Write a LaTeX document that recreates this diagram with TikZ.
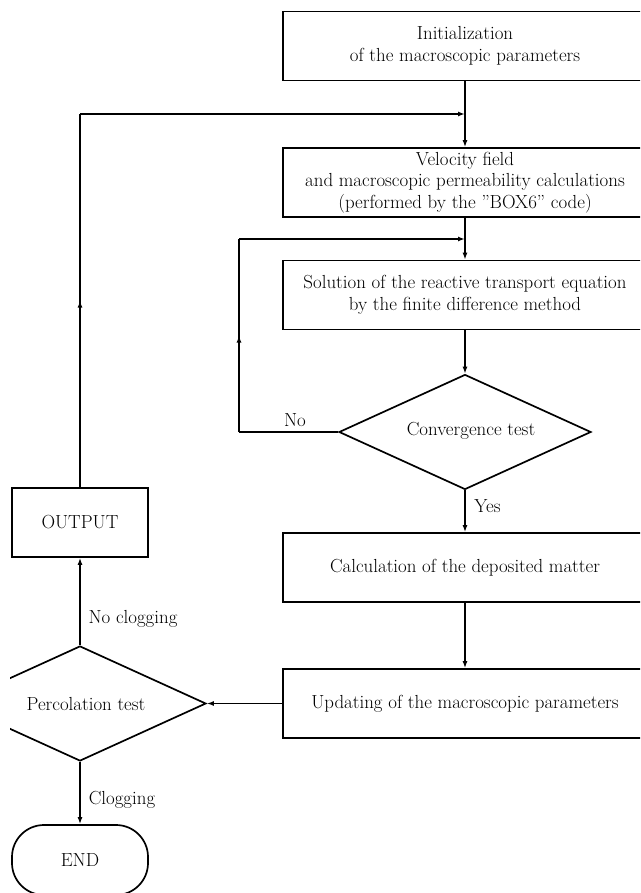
\documentclass[tikz,border=0pt]{standalone}
\usetikzlibrary{shapes.geometric,arrows.meta,decorations.markings}
\begin{document}
\begin{tikzpicture}[x=1pt,y=-1pt,
  every node/.style={font=\fontsize{18.9}{21.5}\selectfont},
  procbox/.style={draw,line width=1.7pt,rectangle,minimum width=364pt,minimum height=69pt,inner sep=0pt,align=center},
  termbox/.style={draw,line width=1.7pt,rectangle,minimum width=136pt,minimum height=69pt,inner sep=0pt,align=center},
  endbox/.style={draw,line width=1.7pt,rectangle,rounded corners=32pt,minimum width=136pt,minimum height=70pt,inner sep=0pt},
  decision/.style={draw,line width=1.7pt,diamond,minimum width=252pt,minimum height=115pt,inner sep=0pt},
  conn/.style={line width=1.7pt,-{Latex[length=7pt,width=5pt]}},
  plain/.style={line width=1.7pt},
  midarrow/.style={postaction={decorate},decoration={markings,mark=at position 0.5 with {\arrow{Latex[length=7pt,width=5pt]}}}},
  lbl/.style={inner sep=0pt}
]
\useasboundingbox (0,0) rectangle (640,893);
\clip (10,0) rectangle (640,893);

% process boxes
\node[procbox] (b1) at (465,46) {Initialization\\of the macroscopic parameters};
\node[procbox] (b2) at (465,182.5) {Velocity field\\and macroscopic permeability calculations\\(performed by the "BOX6" code)};
\node[procbox] (b3) at (465,295) {Solution of the reactive transport equation\\by the finite difference method};
\node[procbox] (b4) at (465,567.5) {Calculation of the deposited matter};
\node[procbox] (b5) at (465,703.5) {Updating of the macroscopic parameters};

% decisions
\node[decision] (cv) at (465,432) {};
\node[lbl] (cvt) at (471,431) {Convergence test};
\node[decision] (pc) at (80,703.5) {};
\node[lbl] (pct) at (86,704) {Percolation test};

% terminal boxes
\node[termbox] (out) at (80,522.5) {OUTPUT};
\node[endbox] (end) at (80,860) {END};

% junction coordinates
\coordinate (j1) at (465,114);
\coordinate (c1) at (80,114);
\coordinate (j2) at (465,239);
\coordinate (c2) at (239,239);
\coordinate (c3) at (239,432);

% connectors
\draw[conn] (b1.south) -- (b2.north);
\draw[conn] (b2.south) -- (b3.north);
\draw[conn] (b3.south) -- (cv.north);
\draw[conn] (cv.south) -- (b4.north);
\draw[conn] (b4.south) -- (b5.north);
\draw[conn] (b5.west) -- (pc.east);
\draw[conn] (pc.north) -- (out.south);
\draw[conn] (pc.south) -- (end.north);

% loop back from convergence test
\draw[plain] (cv.west) -- (c3);
\draw[plain,midarrow] (c3) -- (c2);
\draw[conn] (c2) -- (j2);

% loop back from OUTPUT
\draw[plain,midarrow] (out.north) -- (c1);
\draw[conn] (c1) -- (j1);

% labels
\node[lbl] (lno) at (295,420) {No};
\node[lbl] (lyes) at (487.5,506) {Yes};
\node[lbl] (lnoclog) at (133,619) {No clogging};
\node[lbl] (lclog) at (122,800) {Clogging};
\end{tikzpicture}
\end{document}
